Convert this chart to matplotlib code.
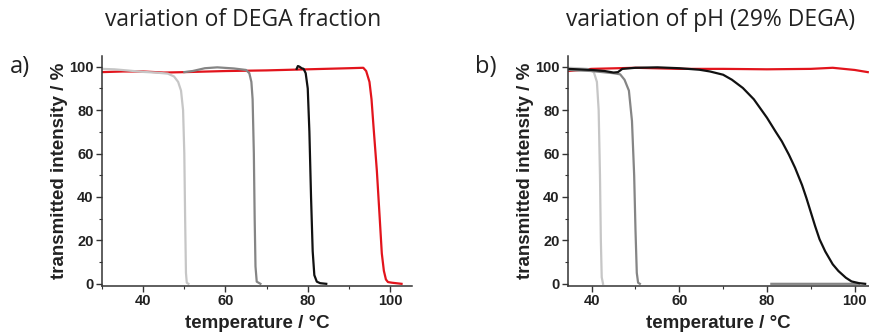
import matplotlib
matplotlib.use('Agg')
import matplotlib.pyplot as plt
from matplotlib.ticker import MultipleLocator

nan = float('nan')

# panel a: variation of DEGA fraction
a_light_t = [30, 33, 36, 40, 43, 46, 47.5, 48.5, 49.2, 49.7, 50.0, 50.2, 50.4, 50.6, 51.0]
a_light_i = [99, 98.8, 98.3, 97.6, 97.3, 96.8, 95.5, 93, 89, 80, 60, 30, 5, 0.5, 0]
a_mid_t = [50, 52, 55, 58, 62, 65, 65.8, 66.3, 66.6, 66.9, 67.1, 67.3, 67.6, 68.5]
a_mid_i = [97.5, 98, 99.3, 99.7, 99.2, 98.5, 97, 93, 85, 60, 30, 8, 1, 0]
a_black_t = [77.3, 77.6, 78, 78.5, 79, 79.5, 80, 80.4, 80.8, 81.2, 81.6, 82.2, 83, 84.5]
a_black_i = [99, 100.3, 100, 99.3, 99, 97, 90, 70, 40, 15, 4, 1, 0.3, 0]
a_red_t = [30, 35, 40, 45, 50, 60, 70, 80, 90, 93.5, 94.2, 95, 95.5, 96, 96.8, 97.5, 98, 98.5,
           99, 99.5, 100.5, 102.8]
a_red_i = [97.5, 97.8, 97.8, 97.3, 97.5, 98, 98.3, 98.8, 99.3, 99.5, 98, 93, 85, 72, 52, 30, 14, 6,
           2, 0.8, 0.5, 0]

# panel b: variation of pH (29% DEGA)
b_light_t = [34.6, 37, 39, 40.5, 41.2, 41.6, 41.9, 42.1, 42.3, 42.6]
b_light_i = [99.5, 99.3, 99, 97.5, 93, 80, 50, 20, 3, 0]
b_mid_t = [34.6, 40, 45, 46.5, 47.5, 48.5, 49.2, 49.7, 50.0, 50.3, 50.6, 51, nan, 81, 101]
b_mid_i = [98.5, 98, 97, 96.5, 94, 89, 75, 50, 25, 5, 0.5, 0, nan, 0, 0]
b_black_t = [34.6, 40, 43, 45, 46, 47, 50, 55, 60, 62, 64.6, 67, 70, 72, 74.5, 77, 80, 82, 83.4,
             85, 86.4, 88, 89, 90, 91, 92, 93.3, 95, 96.3, 98, 99.3, 101, 102.4]
b_black_i = [99, 98.5, 98, 97.3, 97.5, 99, 99.5, 99.7, 99.3, 99, 98.6, 97.8, 96.3, 94, 90.2, 85,
             76.5, 70, 65.6, 59.5, 53.5, 45.5, 39.5, 33, 26.5, 20.5, 14.9, 9, 5.9, 2.8, 1.1, 0.3, 0]
b_red_t = [34.6, 40, 50, 60, 70, 80, 90, 95, 100, 103]
b_red_i = [98, 99, 99.5, 99, 99, 98.8, 99, 99.5, 98.5, 97.5]

c_light = '#c6c6c6'
c_mid = '#858585'
c_black = '#111111'
c_red = '#e2141c'

fig = plt.figure(figsize=(8.69, 3.35), dpi=100)
axa = fig.add_axes([0.1174, 0.1463, 0.357, 0.687])
axb = fig.add_axes([0.6536, 0.1463, 0.346, 0.687])

tick_font = {'family': 'Liberation Sans', 'weight': 'bold', 'size': 10.5}
label_font = {'family': 'Liberation Sans', 'weight': 'bold', 'size': 13.5}
lw = 1.6

axa.plot(a_red_t, a_red_i, color=c_red, lw=lw)
axa.plot(a_light_t, a_light_i, color=c_light, lw=lw)
axa.plot(a_mid_t, a_mid_i, color=c_mid, lw=lw)
axa.plot(a_black_t, a_black_i, color=c_black, lw=lw)
axa.set_xlim(30, 105.4)

axb.plot(b_red_t, b_red_i, color=c_red, lw=lw)
axb.plot(b_light_t, b_light_i, color=c_light, lw=lw)
axb.plot(b_mid_t, b_mid_i, color=c_mid, lw=lw)
axb.plot(b_black_t, b_black_i, color=c_black, lw=lw)
axb.set_xlim(34.6, 103.2)

for ax in (axa, axb):
    ax.set_ylim(-1, 105)
    ax.spines[['top', 'right']].set_visible(False)
    for s in ('left', 'bottom'):
        ax.spines[s].set_linewidth(1.1)
        ax.spines[s].set_color('#333333')
    ax.xaxis.set_major_locator(MultipleLocator(20))
    ax.xaxis.set_minor_locator(MultipleLocator(10))
    ax.yaxis.set_major_locator(MultipleLocator(20))
    ax.yaxis.set_minor_locator(MultipleLocator(10))
    ax.tick_params(which='major', direction='out', length=4, width=1, colors='#333333', pad=2)
    ax.tick_params(which='minor', direction='out', length=2.5, width=0.8, colors='#333333')
    for lab in ax.get_xticklabels() + ax.get_yticklabels():
        lab.set_fontproperties(tick_font)
        lab.set_color('#222222')
    ax.set_xlabel('temperature / °C', fontdict=label_font, color='#222222', labelpad=5)
    ax.set_ylabel('transmitted intensity / %', fontdict=label_font, color='#222222', labelpad=1)

fig.text(243 / 869, 1 - 20 / 335, 'variation of DEGA fraction', family='Open Sans',
         fontsize=16.5, ha='center', va='center', color='#222222')
fig.text(711 / 869, 1 - 20 / 335, 'variation of pH (29% DEGA)', family='Open Sans',
         fontsize=16.5, ha='center', va='center', color='#222222')
fig.text(20 / 869, 1 - 67 / 335, 'a)', family='Open Sans', fontsize=17,
         ha='center', va='center', color='#222222')
fig.text(486 / 869, 1 - 67 / 335, 'b)', family='Open Sans', fontsize=17,
         ha='center', va='center', color='#222222')

fig.savefig('out.png', dpi=100)
